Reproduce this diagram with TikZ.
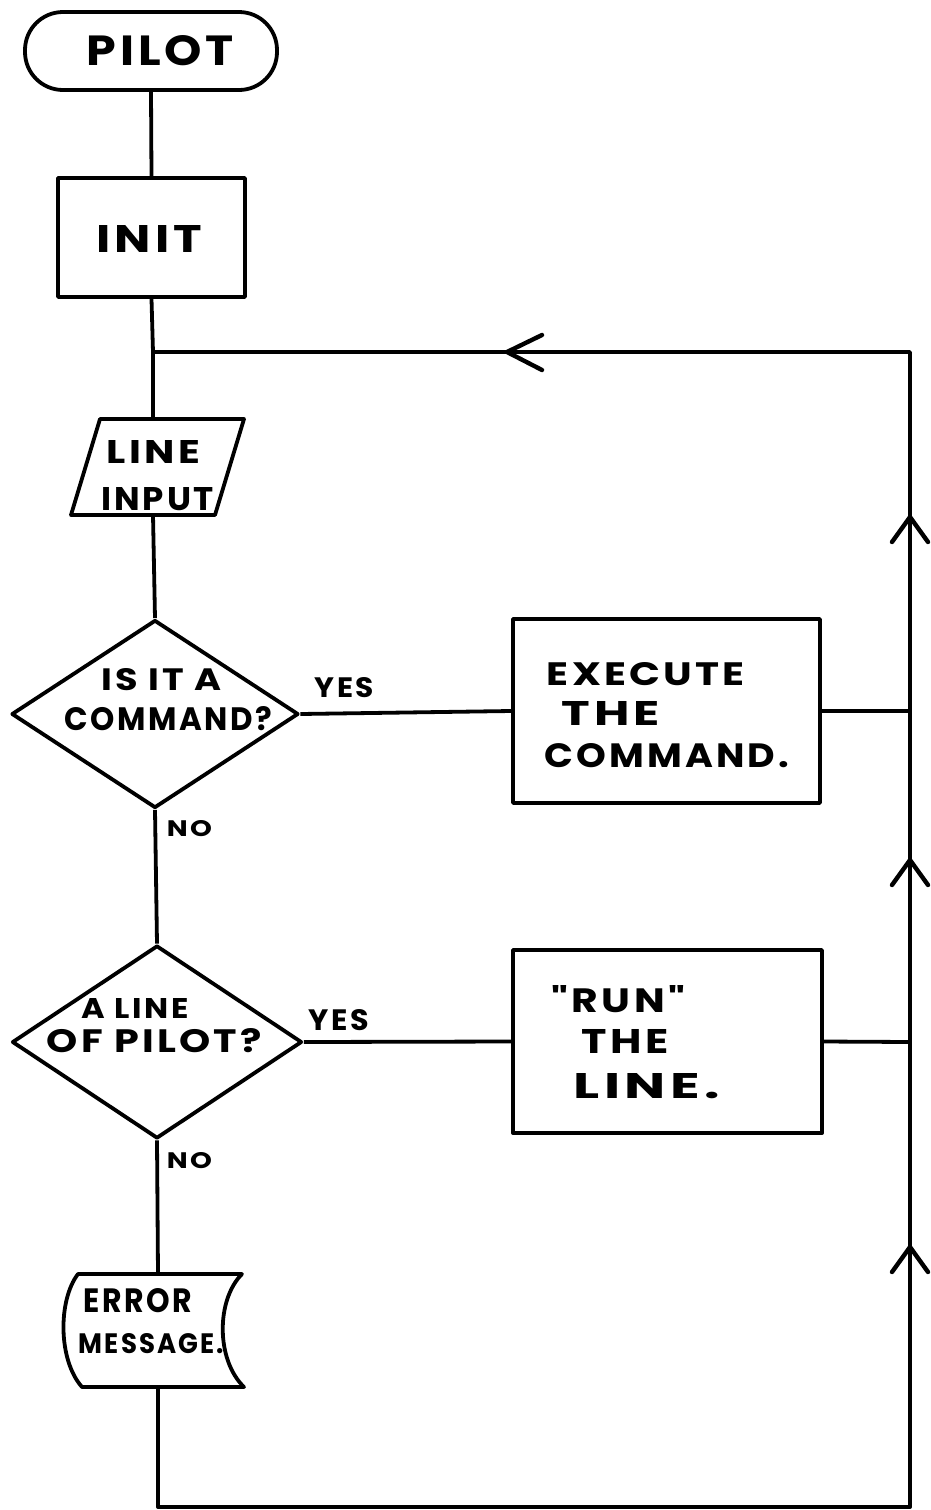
\documentclass[tikz,border=0pt]{standalone}
\usepackage{fontspec}
\newfontfamily\hand[LetterSpace=8]{Poppins}
\usetikzlibrary{shapes.geometric}
\newcommand{\hw}[3]{\resizebox{#1pt}{#2pt}{\hand\bfseries #3}}
\begin{document}
\begin{tikzpicture}[x=1pt,y=-1pt,line width=3.8pt,line join=round,
  shapebox/.style={draw,rectangle,inner sep=0pt},
  decision/.style={draw,diamond,inner sep=0pt},
  txt/.style={inner sep=0pt,anchor=base west},
  chev/.style={line width=4.4pt,line cap=round}]
\useasboundingbox (0,0) rectangle (931,1510);
% shapes
\node[shapebox,rounded corners=38pt,minimum width=252pt,minimum height=78pt] (term) at (151,51) {};
\node[shapebox,minimum width=187pt,minimum height=119pt] (init) at (151.5,237.5) {};
\draw (100,419) -- (244,419) -- (215,515) -- (71,515) -- cycle;
\coordinate (inTop) at (153,419);
\coordinate (inBot) at (153,515);
\node[decision,minimum width=287pt,minimum height=188pt] (d1) at (155,714) {};
\node[shapebox,minimum width=307pt,minimum height=184pt] (exec) at (666.5,711) {};
\node[decision,minimum width=290pt,minimum height=193pt] (d2) at (157,1042) {};
\node[shapebox,minimum width=309pt,minimum height=183pt] (run) at (667.5,1041.5) {};
\draw (78,1274) -- (242,1274) .. controls (216,1300) and (216,1360) .. (244,1387)
      -- (82,1387) .. controls (58,1360) and (58,1300) .. (78,1274) -- cycle;
\coordinate (errTop) at (158,1274);
\coordinate (errBot) at (158,1387);
% coordinates of the loop
\coordinate (J) at (153,352);
\coordinate (TR) at (910,352);
\coordinate (BR) at (910,1507);
\coordinate (BL) at (158,1507);
\coordinate (R1) at (910,711);
\coordinate (R2) at (910,1042);
% texts
\node[txt] (tPilot) at (85,65) {\hw{147}{30}{PILOT}};
\node[txt] (tInit) at (95,252) {\hw{105}{27}{INIT}};
\node[txt] (tLine) at (105,463) {\hw{93}{23}{LINE}};
\node[txt] (tInput) at (100,510) {\hw{112}{23}{INPUT}};
\node[txt] (tIsIt) at (100,690) {\hw{120}{22}{IS IT A}};
\node[txt] (tCmdQ) at (63,730) {\hw{207}{24}{COMMAND?}};
\node[txt] (tYes1) at (313,697) {\hw{59}{20}{YES}};
\node[txt] (tNo1) at (165,836) {\hw{45}{16}{NO}};
\node[txt] (tExec) at (545,685) {\hw{198}{23}{EXECUTE}};
\node[txt] (tThe1) at (560,725) {\hw{98}{24}{THE}};
\node[txt] (tCmd) at (543,767) {\hw{244}{24}{COMMAND.}};
\node[txt] (tALine) at (80,1018) {\hw{107}{20}{A LINE}};
\node[txt] (tOfPilot) at (45,1052) {\hw{215}{24}{OF PILOT?}};
\node[txt] (tYes2) at (307,1030) {\hw{60}{21}{YES}};
\node[txt] (tNo2) at (165,1168) {\hw{45}{16}{NO}};
\node[txt] (tRun) at (550,1012) {\hw{133}{27}{"RUN"}};
\node[txt] (tThe2) at (580,1053) {\hw{87}{24}{THE}};
\node[txt] (tLineDot) at (572,1098) {\hw{146}{25}{LINE.}};
\node[txt] (tError) at (82,1312) {\hw{108}{24}{ERROR}};
\node[txt] (tMsg) at (77,1353) {\hw{145}{20}{MESSAGE.}};
% connectors
\draw (term.south) -- (init.north);
\draw (init.south) -- (J) -- (inTop);
\draw (inBot) -- (d1.north);
\draw (d1.east) -- (exec.west);
\draw (d1.south) -- (d2.north);
\draw (d2.east) -- (run.west);
\draw (d2.south) -- (errTop);
\draw (exec.east) -- (R1);
\draw (run.east) -- (R2);
\draw (errBot) -- (BL) -- (BR) -- (TR) -- (J);
% chevrons
\coordinate (A0) at (507,352);
\coordinate (A1) at (910,517);
\coordinate (A2) at (910,860);
\coordinate (A3) at (910,1247);
\draw[chev] ([shift={(35,-17)}]A0) -- (A0) -- ([shift={(35,18)}]A0);
\draw[chev] ([shift={(-18,25)}]A1) -- (A1) -- ([shift={(18,25)}]A1);
\draw[chev] ([shift={(-18,25)}]A2) -- (A2) -- ([shift={(18,25)}]A2);
\draw[chev] ([shift={(-18,25)}]A3) -- (A3) -- ([shift={(18,25)}]A3);
\end{tikzpicture}
\end{document}
